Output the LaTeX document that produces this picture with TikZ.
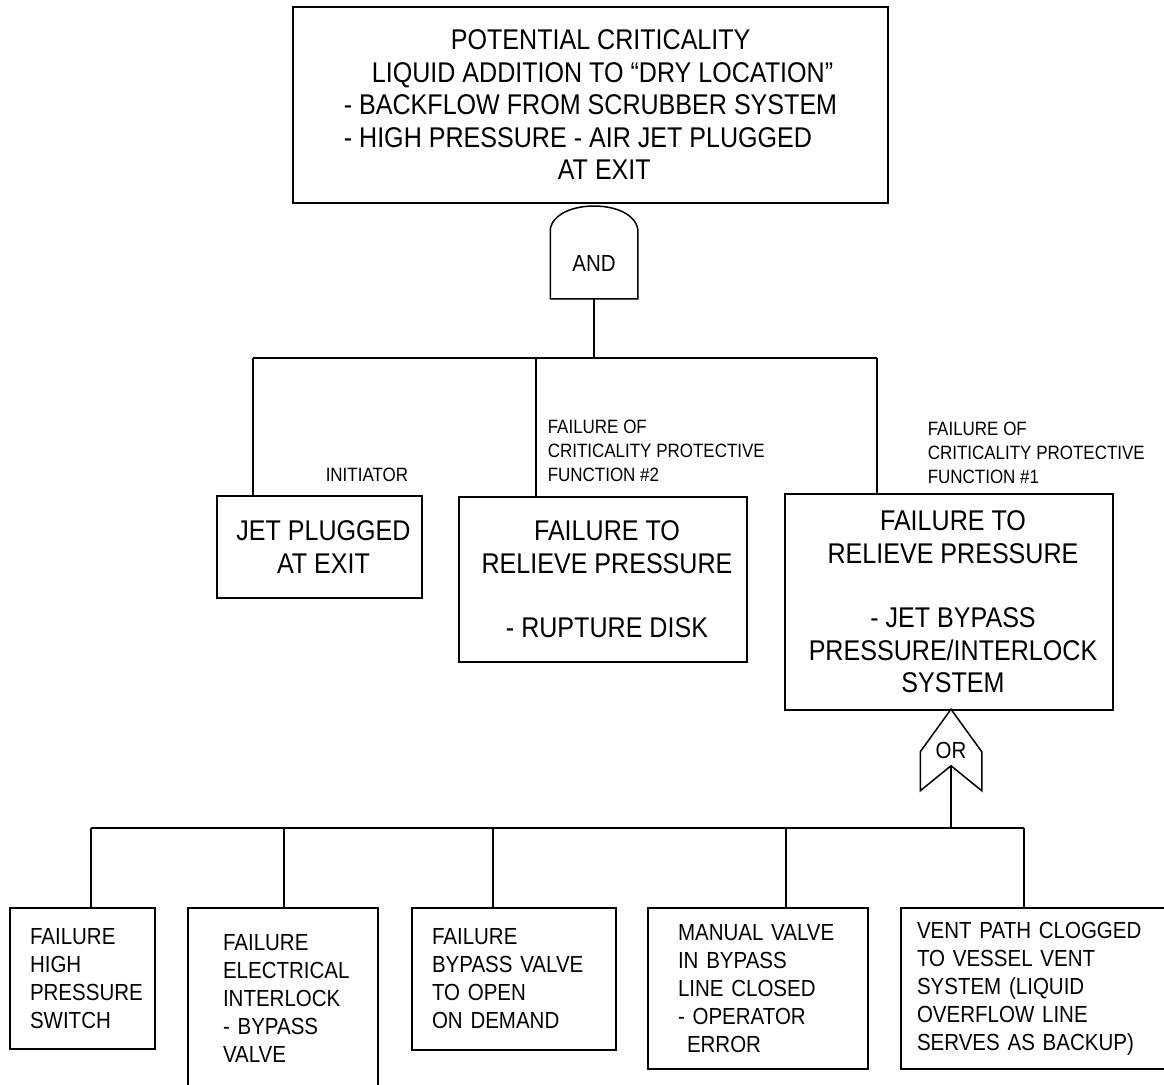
\documentclass[tikz,border=0pt]{standalone}
\usepackage{fontspec}
\setmainfont[FakeStretch=0.88]{Liberation Sans}
\usetikzlibrary{calc}
\tikzset{
	event/.style={draw, rectangle, line width=1.5pt, inner sep=0pt, align=center, font=\fontsize{28.5}{32.5}\selectfont},
	basic/.style={draw, rectangle, line width=1.5pt, inner ysep=0pt, inner xsep=#1, align=left, font=\fontsize{23.3}{28}\selectfont},
	% small texts above the boxes
	note/.style={anchor=west, inner sep=0pt, align=left, font=\fontsize{19.3}{24}\selectfont},
	gate/.style={inner sep=0pt, font=\fontsize{23.3}{28}\selectfont},
}

\begin{document}
\begin{tikzpicture}[x=1pt, y=-1pt, line width=1.5pt]
	\useasboundingbox (0,0) rectangle (1164,1084);
	
	\node (top) [event, align=left, minimum width=595, minimum height=196] at (590.5,105) {\hspace*{107pt}POTENTIAL CRITICALITY\\\hspace*{28pt}LIQUID ADDITION TO “DRY LOCATION”\\- BACKFLOW FROM SCRUBBER SYSTEM\\- HIGH PRESSURE - AIR JET PLUGGED\\\hspace*{214pt}AT EXIT};
	
	\node (andg) [gate, minimum width=86, minimum height=68] at (594,264) {\raisebox{2pt}{AND}};
	
	\node (jet) [event, minimum width=205, minimum height=102] at (319.5,547) {\hspace*{8pt}JET PLUGGED\\\hspace*{8pt}AT EXIT};
	\node (disk) [event, minimum width=288, minimum height=165] at (603,579.5) {\hspace*{8pt}FAILURE TO\\\hspace*{8pt}RELIEVE PRESSURE\\[32pt]\hspace*{8pt}- RUPTURE DISK};
	\node (bypass) [event, minimum width=328, minimum height=216] at (949,602) {\hspace*{8pt}FAILURE TO\\\hspace*{8pt}RELIEVE PRESSURE\\[32pt]\hspace*{8pt}- JET BYPASS\\\hspace*{8pt}PRESSURE/INTERLOCK\\\hspace*{8pt}SYSTEM};
	
	\node (init) [note] at (325,475) {INITIATOR};
	\node (cpf2) [note] at (547,451) {FAILURE OF\\CRITICALITY PROTECTIVE\\FUNCTION \#2};
	\node (cpf1) [note] at (927,452.5) {FAILURE OF\\CRITICALITY PROTECTIVE\\FUNCTION \#1};
	
	\node (org) [gate, minimum width=60, minimum height=80] at (951,750) {\raisebox{-4pt}{OR}};
	
	\node (sw) [basic=20pt, text width=105, minimum height=141] at (82.5,978.5) {FAILURE\\HIGH\\PRESSURE\\SWITCH};
	\node (ilk) [basic=35pt, text width=120, minimum height=180] at (283,998) {FAILURE\\ELECTRICAL\\INTERLOCK\\- BYPASS\\VALVE};
	\node (valve) [basic=20pt, text width=164, minimum height=142] at (514,979) {FAILURE\\BYPASS VALVE\\TO OPEN\\ON DEMAND};
	\node (manual) [basic=30pt, text width=160, minimum height=161] at (758,988.5) {MANUAL VALVE\\IN BYPASS\\LINE CLOSED\\- OPERATOR\\\hspace*{9pt}ERROR};
	\node (vent) [basic=16pt, text width=235, minimum height=161] at (1034.5,988.5) {VENT PATH CLOGGED\\TO VESSEL VENT\\SYSTEM (LIQUID\\OVERFLOW LINE\\SERVES AS BACKUP)};
	
	% gate outlines
	\draw (andg.north west) .. controls +(5,-31) and +(-5,-31) .. (andg.north east) -- (andg.south east) -- (andg.south west) -- cycle;
	\coordinate (ornotch) at ($(org.south)+(0,-25)$);
	\draw (org.south west) -- ++(0,-39) -- (org.north) -- ($(org.south east)+(0,-39)$) -- (org.south east) -- (ornotch) -- cycle;
	
	\coordinate (t1) at (253,358);
	\coordinate (t2) at (536,358);
	\coordinate (t3) at (877,358);
	
	\coordinate (b1) at (91,828);
	\coordinate (b2) at (284,828);
	\coordinate (b3) at (493,828);
	\coordinate (b4) at (786,828);
	\coordinate (b5) at (1024,828);
	
	\begin{scope}[line width=1.5pt, black]
		\draw (andg.south) -- (andg.south |- t1);
		\draw (t1) -- (t3);
		\draw (t1) -- (t1 |- jet.north);
		\draw (t2) -- (t2 |- disk.north);
		\draw (t3) -- (t3 |- bypass.north);
		
		\draw (ornotch) -- (ornotch |- b1);
		\draw (b1) -- (b5);
		\draw (b1) -- (b1 |- sw.north);
		\draw (b2) -- (b2 |- ilk.north);
		\draw (b3) -- (b3 |- valve.north);
		\draw (b4) -- (b4 |- manual.north);
		\draw (b5) -- (b5 |- vent.north);
	\end{scope}
	
\end{tikzpicture}
\end{document}
